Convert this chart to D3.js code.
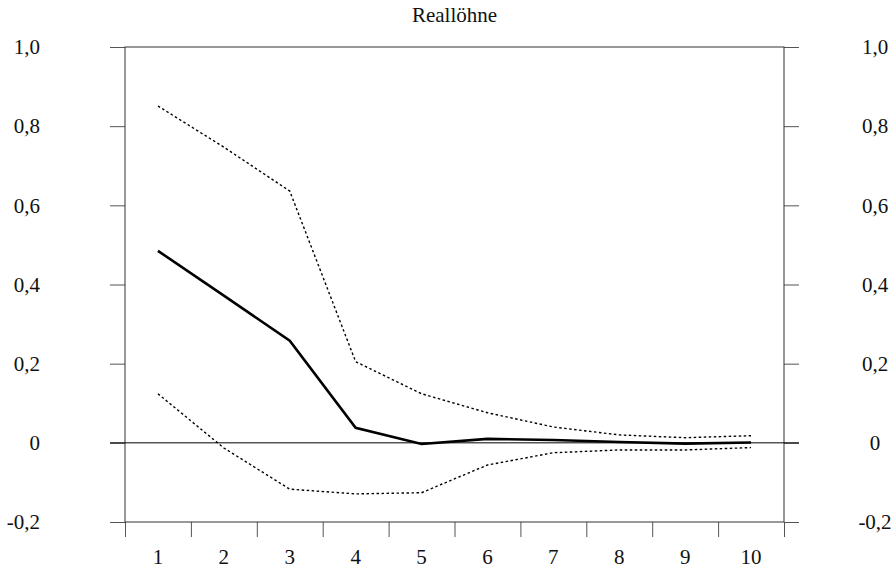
<!DOCTYPE html>
<html>
<head>
<meta charset="utf-8">
<script src="https://cdn.jsdelivr.net/npm/d3@7"></script>
<style>
  body { margin: 0; background: #fff; }
  svg text { font-family: "Liberation Serif", "Times New Roman", Times, "DejaVu Serif", serif !important; fill: #111; }
</style>
</head>
<body>
<div id="chart"></div>
<script>
// data
var periods = [1, 2, 3, 4, 5, 6, 7, 8, 9, 10];
var response = [0.485, 0.372, 0.258, 0.038, -0.003, 0.010, 0.007, 0.002, -0.002, 0.001];
var upperBand = [0.851, 0.747, 0.636, 0.205, 0.124, 0.076, 0.040, 0.020, 0.013, 0.018];
var lowerBand = [0.124, -0.013, -0.117, -0.129, -0.126, -0.056, -0.025, -0.018, -0.018, -0.012];
var yTicks = [-0.2, 0, 0.2, 0.4, 0.6, 0.8, 1.0];
var title = 'Reallöhne';

var width = 894, height = 569;
var margin = {top: 47, right: 110, bottom: 47, left: 125};
var innerW = width - margin.left - margin.right;
var innerH = height - margin.top - margin.bottom;

var svg = d3.select('#chart').append('svg')
  .attr('width', width).attr('height', height);

var g = svg.append('g')
  .attr('transform', 'translate(' + margin.left + ',' + margin.top + ')');

var x = d3.scaleBand().domain(periods).range([0, innerW]);
var xb = d3.scaleLinear().domain([0, periods.length]).range([0, innerW]);
var y = d3.scaleLinear().domain([-0.2, 1.0]).range([innerH, 0]);

var fmt = function(d) {
  if (d === 0) return '0';
  return d3.format('.1f')(d).replace('.', ',').replace('\u2212', '-');
};

// left axis
var left = g.append('g')
  .call(d3.axisLeft(y).tickValues(yTicks).tickSize(15).tickSizeOuter(0)
    .tickPadding(70).tickFormat(fmt));

// right axis
var right = g.append('g')
  .attr('transform', 'translate(' + innerW + ',0)')
  .call(d3.axisRight(y).tickValues(yTicks).tickSize(15).tickSizeOuter(0)
    .tickFormat(fmt));
right.selectAll('.tick text').attr('x', 91).attr('text-anchor', 'middle');

// bottom ticks on band edges
var bottom = g.append('g')
  .attr('transform', 'translate(0,' + innerH + ')')
  .call(d3.axisBottom(xb).tickValues(d3.range(0, periods.length + 1))
    .tickSize(15).tickSizeOuter(0).tickFormat(''));

// bottom labels in band centres
var bottomLabels = g.append('g')
  .attr('transform', 'translate(0,' + innerH + ')')
  .call(d3.axisBottom(x).tickSize(0).tickPadding(27));

[left, right, bottom, bottomLabels].forEach(function(a) {
  a.attr('font-family', null).attr('font-size', null);
  a.select('.domain').remove();
  a.selectAll('.tick line').attr('stroke', '#555');
  a.selectAll('.tick text')
    .style('font-size', '21px')
    .attr('fill', '#111');
});

// frame
g.append('rect')
  .attr('x', 0).attr('y', 0)
  .attr('width', innerW).attr('height', innerH)
  .attr('fill', 'none').attr('stroke', '#333').attr('stroke-width', 1);

// zero line
g.append('line')
  .attr('x1', -15).attr('x2', innerW + 15)
  .attr('y1', y(0)).attr('y2', y(0))
  .attr('stroke', '#000').attr('stroke-width', 1);

var line = d3.line()
  .x(function(d, i) { return x(periods[i]) + x.bandwidth() / 2; })
  .y(function(d) { return y(d); });

g.append('path').datum(upperBand)
  .attr('d', line).attr('fill', 'none')
  .attr('stroke', '#000').attr('stroke-width', 1.4)
  .attr('stroke-dasharray', '2.5,2.5');

g.append('path').datum(lowerBand)
  .attr('d', line).attr('fill', 'none')
  .attr('stroke', '#000').attr('stroke-width', 1.4)
  .attr('stroke-dasharray', '2.5,2.5');

g.append('path').datum(response)
  .attr('d', line).attr('fill', 'none')
  .attr('stroke', '#000').attr('stroke-width', 2.6);

// title
svg.append('text')
  .attr('x', margin.left + innerW / 2)
  .attr('y', 22)
  .attr('text-anchor', 'middle')
  .style('font-size', '21px')
  .text(title);
</script>
</body>
</html>
